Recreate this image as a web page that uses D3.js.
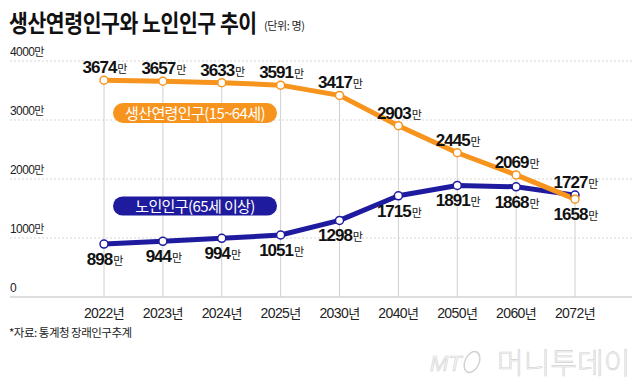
<!DOCTYPE html>
<html>
<head>
<meta charset="utf-8">
<script src="https://cdn.jsdelivr.net/npm/d3@7"></script>
<style>
  body { margin: 0; background: #fff; }
  svg { display: block; }
  .kr { font-family: "Noto Sans CJK KR", sans-serif; }
  .num { font-family: "Liberation Sans Narrow", "Liberation Sans", Arial, sans-serif; }
</style>
</head>
<body>
<svg id="chart" width="640" height="384"></svg>
<script>
const years = ["2022", "2023", "2024", "2025", "2030", "2040", "2050", "2060", "2072"];
const working = [3674, 3657, 3633, 3591, 3417, 2903, 2445, 2069, 1658];
const elderly = [898, 944, 994, 1051, 1298, 1715, 1891, 1868, 1727];
const yTicks = [0, 1000, 2000, 3000, 4000];
// label above (-1) or below (+1) the point
const workingSide = [-1, -1, -1, -1, -1, -1, -1, -1, 1];
const elderlySide = [1, 1, 1, 1, 1, 1, 1, 1, -1];

const orange = "#f7941d";
const blue = "#1f1b9e";

const svg = d3.select("#chart");

const x = d3.scalePoint().domain(years).range([104, 575]);
const y = d3.scaleLinear().domain([0, 4000]).range([297, 61]);

// title (squeezed horizontally like the original condensed face)
const title = svg.append("text")
    .attr("class", "kr")
    .attr("font-size", 24).attr("font-weight", 700)
    .attr("fill", "#111")
    .attr("letter-spacing", -0.5)
    .text("생산연령인구와 노인인구 추이");
const tw = title.node().getComputedTextLength();
title.attr("transform", "translate(9,32) scale(" + (248 / tw) + ",1)");

svg.append("text")
    .attr("class", "kr")
    .attr("x", 264).attr("y", 30)
    .attr("font-size", 11).attr("fill", "#222")
    .attr("letter-spacing", -0.4)
    .text("(단위: 명)");

// grid
svg.selectAll(".grid")
    .data(yTicks.filter(d => d > 0))
    .enter().append("line")
    .attr("x1", 10).attr("x2", 632)
    .attr("y1", d => y(d)).attr("y2", d => y(d))
    .attr("stroke", "#d6d6d6")
    .attr("stroke-dasharray", "2,2");

svg.append("line")
    .attr("x1", 10).attr("x2", 632)
    .attr("y1", y(0)).attr("y2", y(0))
    .attr("stroke", "#bdbdbd");

svg.selectAll(".ylab")
    .data(yTicks)
    .enter().append("text")
    .attr("x", 10)
    .attr("y", d => y(d) - 5)
    .attr("font-size", 12)
    .attr("fill", "#222")
    .attr("letter-spacing", -0.6)
    .html(d => d === 0 ? '<tspan class="num">0</tspan>'
        : '<tspan class="num">' + d + '</tspan><tspan class="kr" font-size="11">만</tspan>');

// vertical guides
svg.selectAll(".vline")
    .data(years)
    .enter().append("line")
    .attr("x1", d => x(d)).attr("x2", d => x(d))
    .attr("y1", (d, i) => y(working[i]))
    .attr("y2", y(0))
    .attr("stroke", "#d0d0d0");

// x labels
svg.selectAll(".xlab")
    .data(years)
    .enter().append("text")
    .attr("x", d => x(d))
    .attr("y", 318)
    .attr("text-anchor", "middle")
    .attr("font-size", 14)
    .attr("fill", "#222")
    .attr("letter-spacing", -0.6)
    .html(d => '<tspan class="num">' + d + '</tspan><tspan class="kr" font-size="13">년</tspan>');

// lines
const line = d3.line()
    .x((d, i) => x(years[i]))
    .y(d => y(d));

svg.append("path")
    .datum(elderly)
    .attr("d", line)
    .attr("fill", "none")
    .attr("stroke", blue)
    .attr("stroke-width", 5)
    .attr("stroke-linejoin", "round");

svg.append("path")
    .datum(working)
    .attr("d", line)
    .attr("fill", "none")
    .attr("stroke", orange)
    .attr("stroke-width", 5)
    .attr("stroke-linejoin", "round");

function dots(values, color) {
    svg.append("g").selectAll("circle")
        .data(values)
        .enter().append("circle")
        .attr("cx", (d, i) => x(years[i]))
        .attr("cy", d => y(d))
        .attr("r", 4)
        .attr("fill", "#fff")
        .attr("stroke", color)
        .attr("stroke-width", 1.5);
}
dots(elderly, blue);
dots(working, orange);

// pills
function pill(cx, cy, w, h, color, label) {
    const g = svg.append("g");
    g.append("rect")
        .attr("x", cx - w / 2).attr("y", cy - h / 2)
        .attr("width", w).attr("height", h)
        .attr("rx", h / 2)
        .attr("fill", color);
    g.append("text")
        .attr("class", "kr")
        .attr("x", cx).attr("y", cy + 5.5)
        .attr("text-anchor", "middle")
        .attr("font-size", 15)
        .attr("fill", "#fff")
        .attr("letter-spacing", -0.6)
        .text(label);
}
pill(195, 113, 164, 20, orange, "생산연령인구(15~64세)");
pill(195, 206, 164, 19, blue, "노인인구(65세 이상)");

// value labels
function valueLabels(values, sides) {
    svg.append("g").selectAll("text")
        .data(values)
        .enter().append("text")
        .attr("x", (d, i) => x(years[i]) + 1)
        .attr("y", (d, i) => y(d) + (sides[i] < 0 ? -7 : 21))
        .attr("text-anchor", "middle")
        .attr("fill", "#111")
        .html(d => '<tspan class="num" font-size="17" font-weight="700" letter-spacing="-1">' + d +
            '</tspan><tspan class="kr" font-size="11" dx="1">만</tspan>');
}
valueLabels(working, workingSide);
valueLabels(elderly, elderlySide);

// source
svg.append("text")
    .attr("class", "kr")
    .attr("x", 9).attr("y", 337)
    .attr("font-size", 11.5)
    .attr("fill", "#222")
    .attr("letter-spacing", -0.5)
    .text("*자료: 통계청 장래인구추계");

// watermark
const wm = svg.append("g").attr("fill", "#f6f6f6").attr("stroke", "#d2d2d2").attr("stroke-width", 0.6);
wm.append("text")
    .attr("x", 430).attr("y", 371)
    .attr("font-family", "Liberation Sans, sans-serif")
    .attr("font-style", "italic")
    .attr("font-size", 22)
    .text("MT");
wm.append("ellipse")
    .attr("cx", 472).attr("cy", 362)
    .attr("rx", 7).attr("ry", 11)
    .attr("transform", "rotate(25 472 362)")
    .attr("fill", "none")
    .attr("stroke-width", 1.5);
wm.append("text")
    .attr("class", "kr")
    .attr("x", 497).attr("y", 374)
    .attr("font-size", 29)
    .attr("font-weight", 300)
    .text("머니투데이");
</script>
</body>
</html>
